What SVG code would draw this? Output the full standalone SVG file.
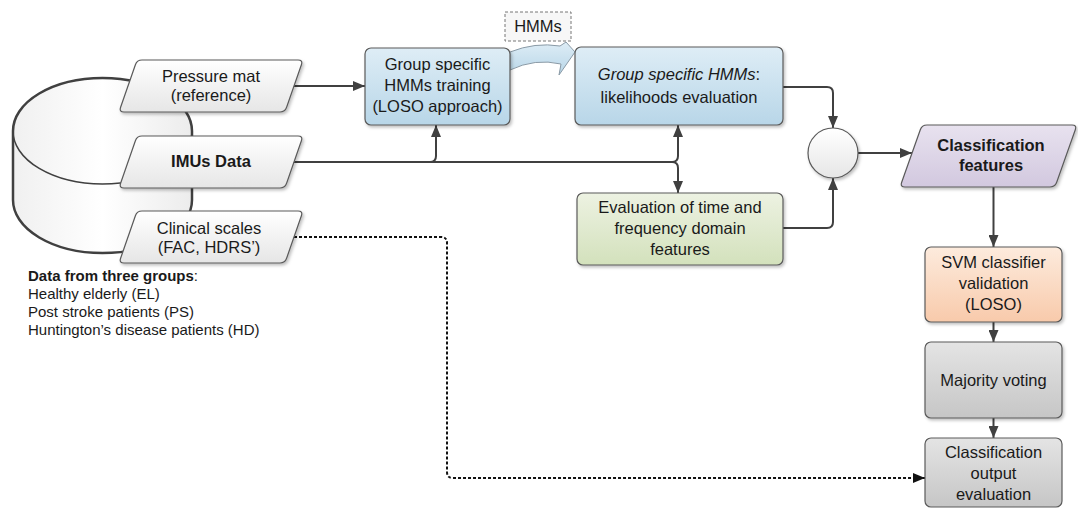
<svg xmlns="http://www.w3.org/2000/svg" width="1078" height="508" viewBox="0 0 1078 508">
<defs>
<linearGradient id="gBlue" x1="0" y1="0" x2="0" y2="1"><stop offset="0" stop-color="#deedf6"/><stop offset="1" stop-color="#b8d6e8"/></linearGradient>
<linearGradient id="gGreen" x1="0" y1="0" x2="0" y2="1"><stop offset="0" stop-color="#edf2e2"/><stop offset="1" stop-color="#d3e1bc"/></linearGradient>
<linearGradient id="gPeach" x1="0" y1="0" x2="0" y2="1"><stop offset="0" stop-color="#fdebdd"/><stop offset="1" stop-color="#f8caab"/></linearGradient>
<linearGradient id="gGray" x1="0" y1="0" x2="0" y2="1"><stop offset="0" stop-color="#e4e4e4"/><stop offset="1" stop-color="#c6c6c6"/></linearGradient>
<linearGradient id="gLav" x1="0" y1="0" x2="0" y2="1"><stop offset="0" stop-color="#e8e2ef"/><stop offset="1" stop-color="#d2c8df"/></linearGradient>
<linearGradient id="gWhite" x1="0" y1="0" x2="0" y2="1"><stop offset="0" stop-color="#ffffff"/><stop offset="1" stop-color="#e6e6e6"/></linearGradient>
<linearGradient id="gCyl" x1="0" y1="0" x2="1" y2="0"><stop offset="0" stop-color="#f0f0f0"/><stop offset="0.5" stop-color="#ffffff"/><stop offset="1" stop-color="#ececec"/></linearGradient>
<filter id="sh" x="-10%" y="-10%" width="125%" height="130%"><feDropShadow dx="1.5" dy="2" stdDeviation="1.5" flood-color="#000" flood-opacity="0.25"/></filter>
<marker id="ah" viewBox="0 0 12 10" refX="12" refY="5" markerWidth="12" markerHeight="10" markerUnits="userSpaceOnUse" orient="auto"><path d="M0,0 L12,5 L0,10 z" fill="#404040"/></marker>
<marker id="ahk" viewBox="0 0 12 10" refX="12" refY="5" markerWidth="12" markerHeight="10" markerUnits="userSpaceOnUse" orient="auto"><path d="M0,0 L12,5 L0,10 z" fill="#111"/></marker>
<path id="para" d="M142,0 L298,0 Q303,0 301.4,4.7 L286.6,47.3 Q285,52 280,52 L124,52 Q119,52 120.6,47.3 L135.4,4.7 Q137,0 142,0 Z"/>
</defs>
<style>
text{font-family:"Liberation Sans",Arial,sans-serif;font-size:16.5px;fill:#1a1a1a;text-anchor:middle}
.b{font-weight:bold}
.i{font-style:italic}
.leg{font-size:15px;text-anchor:start}
.box{stroke:#5a5a5a;stroke-width:1.2}
.par{fill:url(#gWhite);stroke:#5a5a5a;stroke-width:1.2}
.c{fill:none;stroke:#404040;stroke-width:2}
.d{fill:none;stroke:#111;stroke-width:2;stroke-dasharray:3 2}
</style>

<g id="database">
<path d="M13,131 A89.5,53 0 0 1 192,131 L192,200 A89.5,53 0 0 1 13,200 Z" fill="url(#gCyl)" stroke="#404040" stroke-width="2.5"/>
<path d="M13,131 A89.5,53 0 0 0 192,131" fill="none" stroke="#404040" stroke-width="1.5"/>
</g>

<g id="connectors">
<path class="c" d="M294,86 L365,86" marker-end="url(#ah)"/>
<path class="c" d="M292,162 L672,162"/>
<path class="c" d="M430,162 Q436,162 436,156 L436,125" marker-end="url(#ah)"/>
<path class="c" d="M672,162 Q678,162 678,156 L678,125" marker-end="url(#ah)"/>
<path class="c" d="M672,162 Q678,162 678,168 L678,193" marker-end="url(#ah)"/>
<path class="c" d="M783,87 L827,87 Q833,87 833,93 L833,128" marker-end="url(#ah)"/>
<path class="c" d="M783,228 L827,228 Q833,228 833,222 L833,178" marker-end="url(#ah)"/>
<path class="c" d="M858,153 L912,153" marker-end="url(#ah)"/>
<path class="c" d="M993.5,187 L993.5,247" marker-end="url(#ah)"/>
<path class="c" d="M993.5,322 L993.5,342" marker-end="url(#ah)"/>
<path class="c" d="M993.5,418 L993.5,438" marker-end="url(#ah)"/>
<path class="d" d="M294,237 L441,237 Q447,237 447,243 L447,472 Q447,478 453,478 L925,478" marker-end="url(#ahk)"/>
<path d="M510,52 Q535,42 560,46 L566,42 L575,52 L559,75 L561,64 Q535,58 510,70 Z" fill="url(#gBlue)" stroke="#8a9aa6" stroke-width="1"/>
</g>

<g id="pressure-mat">
<use href="#para" class="par" transform="translate(0,60)" filter="url(#sh)"/>
<text x="211" y="82">Pressure mat</text>
<text x="211" y="101">(reference)</text>
</g>
<g id="imus-data">
<use href="#para" class="par" transform="translate(0,136)" filter="url(#sh)"/>
<text x="211" y="167" class="b">IMUs Data</text>
</g>
<g id="clinical-scales">
<use href="#para" class="par" transform="translate(0,211)" filter="url(#sh)"/>
<text x="209" y="234">Clinical scales</text>
<text x="209" y="253">(FAC, HDRS’)</text>
</g>

<g id="legend">
<text class="leg" x="28" y="281"><tspan class="b">Data from three groups</tspan>:</text>
<text class="leg" x="28" y="299">Healthy elderly (EL)</text>
<text class="leg" x="28" y="317">Post stroke patients (PS)</text>
<text class="leg" x="28" y="335">Huntington’s disease patients (HD)</text>
</g>

<g id="hmm-training">
<rect class="box" x="365" y="48" width="145" height="77" rx="6" fill="url(#gBlue)" filter="url(#sh)"/>
<text x="437.5" y="70">Group specific</text>
<text x="437.5" y="91">HMMs training</text>
<text x="437.5" y="112">(LOSO approach)</text>
</g>

<g id="hmms-label">
<rect x="505" y="12" width="66" height="29" fill="#f7f7f7" stroke="#777" stroke-width="1" stroke-dasharray="3 2"/>
<text x="538" y="32">HMMs</text>
</g>

<g id="likelihoods">
<rect class="box" x="575" y="47" width="208" height="78" rx="6" fill="url(#gBlue)" filter="url(#sh)"/>
<text x="679" y="80"><tspan class="i">Group specific HMMs</tspan>:</text>
<text x="679" y="103">likelihoods evaluation</text>
</g>

<g id="time-freq">
<rect class="box" x="577" y="193" width="206" height="72" rx="6" fill="url(#gGreen)" filter="url(#sh)"/>
<text x="680" y="213">Evaluation of time and</text>
<text x="680" y="234">frequency domain</text>
<text x="680" y="255">features</text>
</g>

<g id="merge">
<circle cx="833" cy="153" r="25" fill="url(#gWhite)" stroke="#5a5a5a" stroke-width="1.2" filter="url(#sh)"/>
</g>

<g id="classification-features">
<path d="M927,125 L1072,125 Q1077,125 1075.3,129.7 L1056.7,182.3 Q1055,187 1050,187 L905,187 Q900,187 901.7,182.3 L920.3,129.7 Q922,125 927,125 Z" fill="url(#gLav)" stroke="#5a5a5a" stroke-width="1.2" filter="url(#sh)"/>
<text x="991" y="151" class="b">Classification</text>
<text x="991" y="171" class="b">features</text>
</g>

<g id="svm">
<rect class="box" x="925" y="247" width="137" height="75" rx="6" fill="url(#gPeach)" filter="url(#sh)"/>
<text x="993.5" y="268">SVM classifier</text>
<text x="993.5" y="289">validation</text>
<text x="993.5" y="310">(LOSO)</text>
</g>

<g id="majority">
<rect class="box" x="925" y="342" width="137" height="76" rx="6" fill="url(#gGray)" filter="url(#sh)"/>
<text x="993.5" y="386">Majority voting</text>
</g>

<g id="output-eval">
<rect class="box" x="925" y="438" width="137" height="69" rx="6" fill="url(#gGray)"/>
<text x="993.5" y="458">Classification</text>
<text x="993.5" y="479">output</text>
<text x="993.5" y="500">evaluation</text>
</g>
</svg>
